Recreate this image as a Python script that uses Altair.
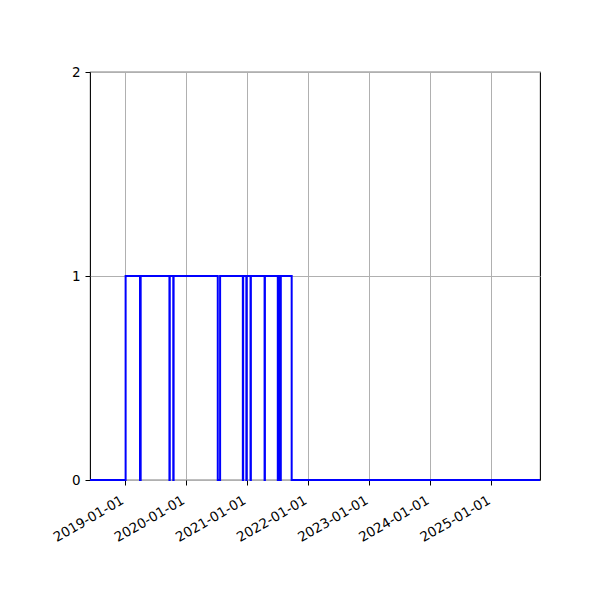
import altair as alt
import pandas as pd

dates = ["2018-06-07", "2019-01-06", "2019-04-02", "2019-04-06", "2019-09-25", "2019-09-27",
         "2019-10-18", "2019-10-20", "2020-07-10", "2020-07-24", "2020-12-07", "2020-12-09",
         "2020-12-28", "2020-12-30", "2021-01-22", "2021-01-24", "2021-04-16", "2021-04-18",
         "2021-07-04", "2021-07-08", "2021-07-18", "2021-07-22", "2021-09-25", "2025-10-19"]
values = [0, 1, 0, 1, 0, 1, 0, 1, 0, 1, 0, 1, 0, 1, 0, 1, 0, 1, 0, 1, 0, 1, 0, 0]
tick_years = [2019, 2020, 2021, 2022, 2023, 2024, 2025]
y_ticks = [0, 1, 2]

df = pd.DataFrame({"date": [d + "T00:00:00" for d in dates], "value": values})

font = "DejaVu Sans"

chart = alt.Chart(df).mark_line(
    interpolate="step-after", color="#0000ff", strokeWidth=2
).encode(
    x=alt.X(
        "date:T",
        scale=alt.Scale(domain=[alt.DateTime(year=2018, month=6, date=7),
                                alt.DateTime(year=2025, month=10, date=19)]),
        axis=alt.Axis(
            values=[alt.DateTime(year=y, month=1, date=1) for y in tick_years],
            format="%Y-%m-%d", labelAngle=330, labelAlign="right", labelBaseline="top",
            labelOverlap=False, labelFlush=False, labelBound=False, labelOffset=-6,
            title=None, grid=True, gridColor="#b0b0b0", gridWidth=1,
            tickColor="black", tickSize=5, tickWidth=1, domain=False,
            labelColor="black", labelFont=font, labelFontSize=13.5, labelPadding=8,
        ),
    ),
    y=alt.Y(
        "value:Q",
        scale=alt.Scale(domain=[0, 2], nice=False, zero=False),
        axis=alt.Axis(
            values=y_ticks, format=".0f", title=None, grid=True, gridColor="#b0b0b0",
            labelOverlap=False, labelFlush=False, labelBound=False,
            gridWidth=1, tickColor="black", tickSize=5, tickWidth=1, domain=False,
            labelColor="black", labelFont=font, labelFontSize=13.5, labelPadding=5,
        ),
    ),
).properties(
    width=450, height=408,
    autosize=alt.AutoSizeParams(type="none"),
    padding={"left": 82, "top": 64, "right": 40, "bottom": 100},
).configure_view(stroke="black", strokeWidth=1.1)

chart.save("out.html", embed_options={"renderer": "svg", "actions": False})
